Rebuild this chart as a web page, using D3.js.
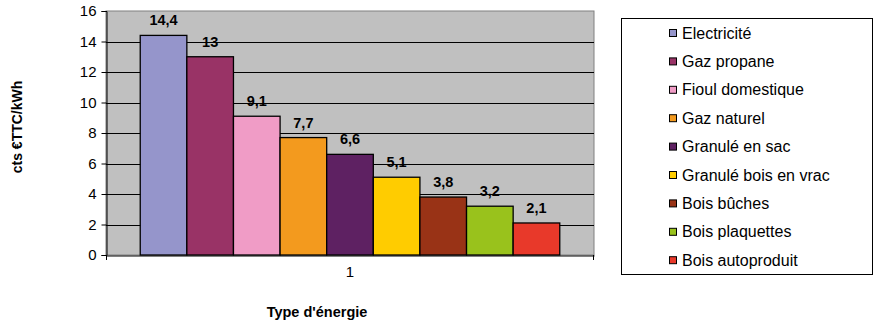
<!DOCTYPE html>
<html>
<head>
<meta charset="utf-8">
<script src="https://cdn.jsdelivr.net/npm/d3@7/dist/d3.min.js"></script>
<style>
  html, body { margin: 0; padding: 0; background: #fff; }
  svg { display: block; font-family: "Liberation Sans", Arial, sans-serif; }
  svg text { font-family: "Liberation Sans", Arial, sans-serif; }
</style>
</head>
<body>
<svg id="chart" width="874" height="324"></svg>
<script>
// Energy price per kWh, one category with nine series
const categories = ["1"];
const seriesNames = ["Electricité", "Gaz propane", "Fioul domestique", "Gaz naturel",
  "Granulé en sac", "Granulé bois en vrac", "Bois bûches", "Bois plaquettes", "Bois autoproduit"];
const seriesValues = [14.4, 13, 9.1, 7.7, 6.6, 5.1, 3.8, 3.2, 2.1];
const valueLabels = ["14,4", "13", "9,1", "7,7", "6,6", "5,1", "3,8", "3,2", "2,1"];
const seriesColors = ["#9595cb", "#993366", "#f09cc6", "#f39a1e", "#5e2162",
  "#ffcc00", "#993316", "#99c21c", "#e8392a"];
const yTicks = [0, 2, 4, 6, 8, 10, 12, 14, 16];

const FONT = "'Liberation Sans', Arial, sans-serif";
const svg = d3.select("#chart");
const plot = { left: 106, right: 594, top: 11, bottom: 255 };

const y = d3.scaleLinear().domain([0, 16]).range([plot.bottom, plot.top]);
const x0 = d3.scaleBand().domain(categories).range([plot.left, plot.right])
  .paddingInner(0).paddingOuter(0.0816);
const x1 = d3.scaleBand().domain(seriesNames).range([0, x0.bandwidth()]).padding(0);

// plot area background
svg.append("rect")
  .attr("x", plot.left).attr("y", plot.top)
  .attr("width", plot.right - plot.left).attr("height", plot.bottom - plot.top)
  .attr("fill", "#c0c0c0").attr("stroke", "#808080").attr("stroke-width", 1);

// horizontal gridlines
svg.append("g").selectAll("line").data(yTicks.filter(d => d > 0 && d < 16)).join("line")
  .attr("x1", plot.left).attr("x2", plot.right)
  .attr("y1", d => Math.round(y(d)) + 0.5).attr("y2", d => Math.round(y(d)) + 0.5)
  .attr("stroke", "#000").attr("stroke-width", 1);

// y axis
const yAxis = svg.append("g")
  .attr("transform", `translate(${plot.left + 0.5},0)`)
  .call(d3.axisLeft(y).tickValues(yTicks).tickSize(5).tickPadding(5).tickFormat(d3.format("d")));
yAxis.select(".domain").attr("stroke", "#000");
yAxis.selectAll(".tick line").attr("stroke", "#000");
yAxis.selectAll("text").attr("font-size", 15).attr("fill", "#000").attr("font-family", FONT);

// bars
const group = svg.append("g").selectAll("g").data(categories).join("g")
  .attr("transform", d => `translate(${x0(d)},0)`);
group.selectAll("rect").data(seriesNames.map((n, i) => ({ n, v: seriesValues[i], c: seriesColors[i] })))
  .join("rect")
  .attr("x", d => x1(d.n)).attr("y", d => y(d.v))
  .attr("width", x1.bandwidth()).attr("height", d => y(0) - y(d.v))
  .attr("fill", d => d.c).attr("stroke", "#000").attr("stroke-width", 1.3);

// value labels
group.selectAll("text").data(seriesNames.map((n, i) => ({ n, v: seriesValues[i], t: valueLabels[i] })))
  .join("text")
  .attr("x", d => x1(d.n) + x1.bandwidth() / 2).attr("y", d => y(d.v) - 10)
  .attr("text-anchor", "middle").attr("font-size", 14.5).attr("font-weight", "bold")
  .attr("font-family", FONT).attr("fill", "#000").text(d => d.t);

// x axis
const xAxis = svg.append("g")
  .attr("transform", `translate(0,${plot.bottom + 0.5})`)
  .call(d3.axisBottom(x0).tickSize(0).tickPadding(11));
xAxis.select(".domain").attr("stroke", "#000");
xAxis.selectAll("text").attr("font-size", 15).attr("fill", "#000").attr("font-family", FONT);
svg.append("line")
  .attr("x1", plot.right - 0.5).attr("x2", plot.right - 0.5)
  .attr("y1", plot.bottom).attr("y2", plot.bottom + 5).attr("stroke", "#000");
svg.append("line")
  .attr("x1", plot.left + 0.5).attr("x2", plot.left + 0.5)
  .attr("y1", plot.bottom).attr("y2", plot.bottom + 5).attr("stroke", "#000");

// axis titles
svg.append("text")
  .attr("x", 317).attr("y", 317)
  .attr("text-anchor", "middle").attr("font-size", 14.5).attr("font-weight", "bold")
  .attr("font-family", FONT).text("Type d'énergie");
svg.append("text")
  .attr("transform", "translate(22,127) rotate(-90)")
  .attr("text-anchor", "middle").attr("font-size", 14).attr("font-weight", "bold")
  .attr("font-family", FONT).text("cts €TTC/kWh");

// legend
const legend = svg.append("g");
legend.append("rect")
  .attr("x", 621.5).attr("y", 18.5).attr("width", 251).attr("height", 256)
  .attr("fill", "#fff").attr("stroke", "#000").attr("stroke-width", 1);
const item = legend.selectAll("g.item").data(seriesNames).join("g").attr("class", "item")
  .attr("transform", (d, i) => `translate(669,${33 + i * 28.4})`);
item.append("rect")
  .attr("x", 0.5).attr("y", -3.5).attr("width", 7).attr("height", 7)
  .attr("fill", (d, i) => seriesColors[i]).attr("stroke", "#000").attr("stroke-width", 1);
item.append("text")
  .attr("x", 13).attr("y", 5.5)
  .attr("font-size", 16).attr("font-family", FONT).attr("fill", "#000").text(d => d);
</script>
</body>
</html>
